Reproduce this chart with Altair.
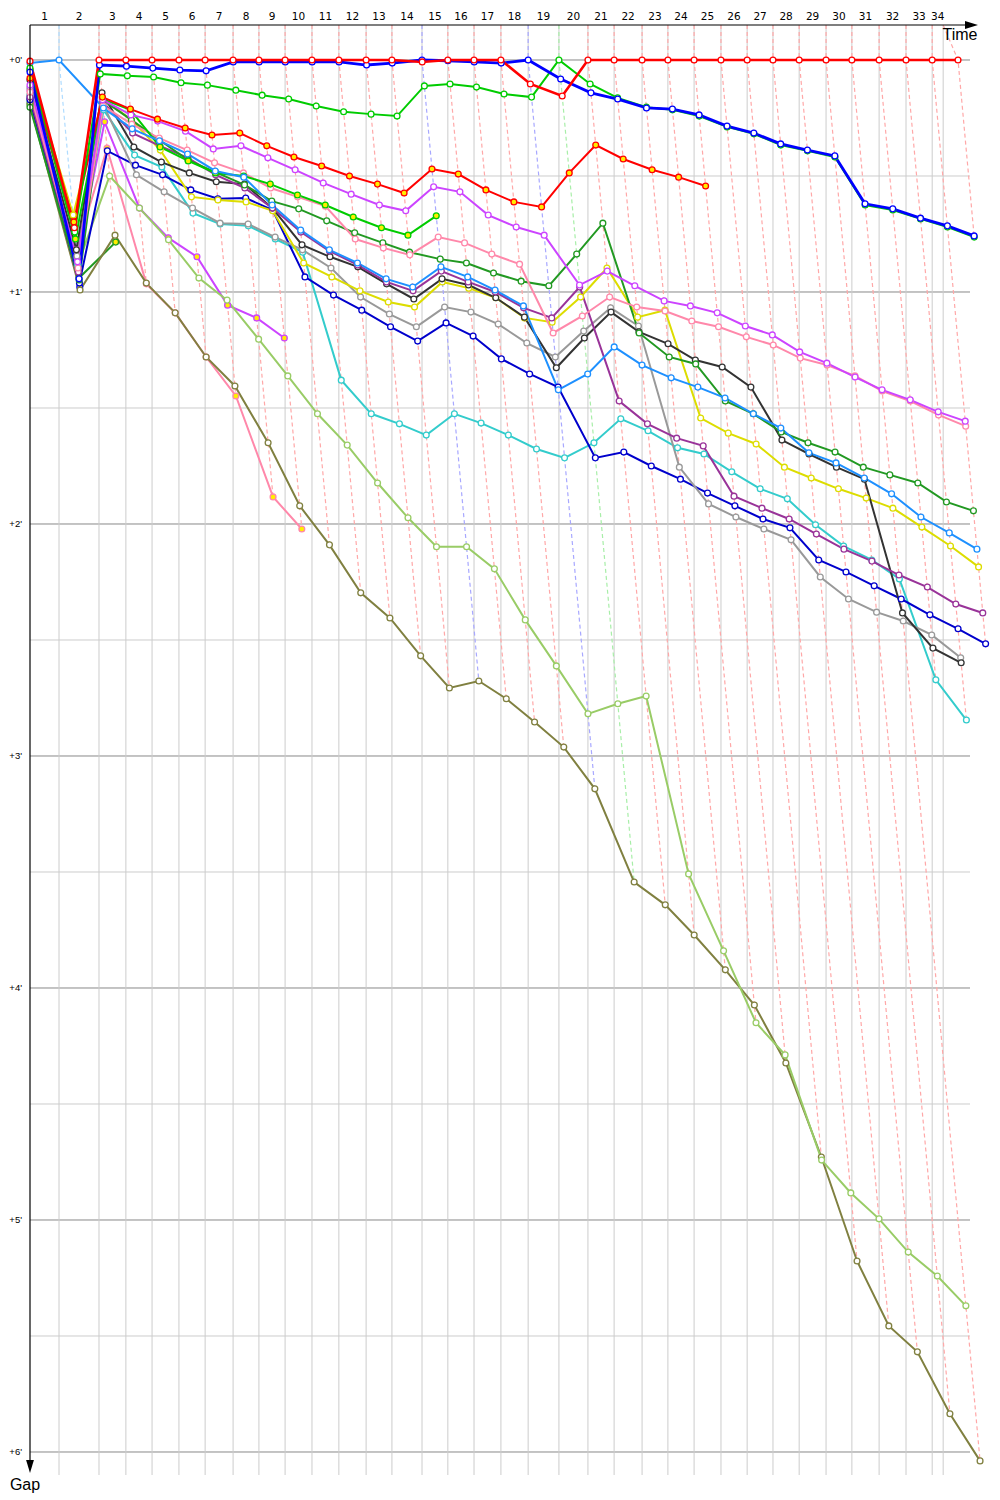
import altair as alt
import pandas as pd

# Leader's cumulative race time (s) at the end of each lap (lap 0 = start)
LAP_TIMES = [0, 82, 195, 271, 345, 421, 495, 574, 647, 721, 797, 873, 950, 1023,
             1108, 1181, 1255, 1331, 1408, 1495, 1577, 1651, 1730, 1803, 1877,
             1953, 2027, 2100, 2174, 2250, 2323, 2400, 2476, 2550, 2623]
RACE_END = 2581
TIME_MAX = 2671
GAP_TOP = -9.05
GAP_BOTTOM = 365.95

LAP_LABELS = [str(i) for i in range(1, 35)]
GAP_TICKS = [0, 60, 120, 180, 240, 300, 360]
GAP_TICK_LABELS = ["+0'", "+1'", "+2'", "+3'", "+4'", "+5'", "+6'"]
GAP_MINOR = [30, 90, 150, 210, 270, 330]

# gaps to the leader (s), lap 0 .. last lap
RED = [0.3, 43.4, 0, 0, 0, 0, 0, 0, 0, 0, 0, 0, 0, 0, 0.5, 0, 0, 0, 6.2, 9.3,
       0, 0, 0, 0, 0, 0, 0, 0, 0, 0, 0, 0, 0, 0, 0]
BLUE = [3.1, 56.6, 1.3, 1.6, 2.1, 2.6, 2.8, 0.5, 0.5, 0.5, 0.5, 0.5, 1.3, 0.8, 0, 0.2,
        0.5, 0.8, 0, 4.9, 8.5, 10.1, 12.4, 12.7, 14.2, 17.1, 18.9, 21.7, 23.3, 24.8,
        37.2, 38.5, 40.9, 42.9, 45.5]
GREEN = [2.1, 44.5, 3.6, 4.1, 4.4, 5.9, 6.5, 7.8, 9.1, 10.1, 11.9, 13.4, 14.0, 14.5,
         6.7, 6.2, 7.0, 8.8, 9.6, 0, 6.2, 9.8, 12.2, 12.9, 14.5, 17.3, 19.1, 22.0,
         23.5, 25.1, 37.5, 38.8, 41.1, 43.2, 45.8]
RED_Y = [4.7, 41.9, 9.6, 12.7, 15.3, 17.6, 19.4, 18.9, 22.2, 25.1, 27.4, 30.0, 32.1,
         34.4, 28.2, 29.5, 33.6, 36.7, 38.0, 29.2, 22.0, 25.6, 28.4, 30.3, 32.6]
MAGENTA = [6.5, 52.2, 10.3, 14.2, 15.8, 18.4, 23.0, 22.2, 25.3, 28.4, 31.8, 34.7, 37.5,
           39.0, 32.8, 34.1, 40.1, 43.2, 45.3, 58.2, 54.6, 58.4, 62.3, 63.6, 65.4,
           68.8, 71.1, 75.5, 78.4, 82.0, 85.3, 87.9, 91.0, 93.4]
PINK = [8.3, 53.8, 11.9, 16.6, 20.2, 23.3, 26.6, 29.2, 33.1, 35.4, 37.8, 46.3, 48.6,
        50.4, 45.8, 47.3, 50.2, 52.8, 70.6, 66.2, 61.3, 63.9, 64.9, 67.5, 69.0, 71.6,
        73.7, 77.1, 78.9, 81.7, 85.6, 88.2, 91.8, 94.7]
GREEN_Y = [2.6, 46.3, 10.1, 12.9, 22.5, 26.1, 29.2, 30.0, 32.1, 34.9, 37.5, 40.6,
           43.4, 45.3, 40.3]
DKGREEN = [12.2, 56.9, 10.3, 15.5, 20.7, 25.9, 29.0, 32.3, 36.5, 38.5, 41.6, 44.7,
           47.3, 49.7, 51.5, 52.5, 55.1, 57.2, 58.4, 50.2, 42.2, 70.6, 76.8, 78.6,
           88.2, 91.5, 96.2, 99.0, 101.4, 105.3, 107.3, 109.4, 114.3, 116.6]
DODGER = [0.8, 0, 12.4, 17.8, 20.9, 24.3, 28.7, 30.3, 37.5, 44.0, 49.1, 52.5, 56.6,
          58.7, 53.5, 56.1, 59.5, 63.6, 85.3, 81.2, 74.2, 78.9, 82.2, 84.6, 87.4,
          91.5, 95.2, 101.6, 104.2, 108.1, 112.2, 118.2, 122.3, 126.5]
PURPLE = [9.6, 54.8, 10.9, 18.9, 22.2, 25.3, 29.7, 33.1, 38.3, 44.5, 49.4, 53.0, 57.4,
          59.7, 54.6, 57.4, 60.0, 64.1, 66.7, 58.7, 88.2, 94.1, 97.8, 99.8, 112.8,
          115.9, 118.7, 122.6, 126.5, 129.6, 133.2, 136.3, 140.7, 143.0]
BLACK = [5.2, 49.1, 8.5, 22.5, 26.4, 29.2, 31.5, 32.1, 38.3, 47.8, 50.9, 53.5, 57.9,
         61.8, 56.6, 58.2, 61.5, 66.5, 79.6, 71.9, 65.2, 70.3, 73.4, 77.6, 79.4, 84.6,
         98.3, 101.9, 105.3, 108.4, 143.0, 152.1, 155.9]
GRAY = [7.2, 50.7, 11.4, 29.7, 34.1, 38.3, 42.2, 42.4, 45.8, 49.1, 53.8, 61.3, 65.7,
        69.0, 63.9, 65.2, 68.3, 73.2, 76.8, 70.1, 64.1, 68.8, 105.3, 114.8, 118.2,
        121.3, 124.1, 133.7, 139.4, 142.8, 145.1, 148.7, 154.6]
CYAN = [9.1, 53.0, 12.9, 24.6, 27.7, 39.6, 42.4, 42.9, 46.3, 49.7, 82.8, 91.5, 94.1,
        97.0, 91.5, 93.9, 97.0, 100.6, 102.9, 99.0, 92.8, 95.9, 100.3, 101.9, 106.5,
        110.9, 113.5, 120.2, 125.7, 129.3, 134.2, 160.3, 170.7]
YELLOW = [2.6, 40.1, 9.8, 15.5, 23.3, 35.4, 36.2, 36.7, 39.0, 52.5, 56.1, 59.7, 62.6,
          63.9, 57.4, 59.0, 61.5, 66.7, 67.8, 61.3, 53.8, 66.5, 64.7, 92.6, 96.5, 99.3,
          105.3, 108.1, 110.9, 113.3, 115.9, 120.8, 125.7, 131.1]
DKBLUE = [10.3, 57.7, 23.5, 27.2, 29.7, 33.6, 35.9, 35.7, 38.8, 56.1, 60.8, 64.7, 69.0,
          72.7, 68.0, 71.4, 77.3, 81.2, 84.6, 102.9, 101.4, 105.0, 108.4, 112.0, 115.3,
          118.7, 121.0, 129.3, 132.4, 136.0, 139.4, 143.5, 147.1, 151.0]
LTGREEN = [10.3, 53.0, 30.0, 38.3, 46.5, 56.4, 62.1, 72.2, 81.7, 91.5, 99.6, 109.4,
           118.4, 125.9, 125.9, 131.6, 144.8, 156.7, 169.1, 166.5, 164.5, 210.5, 230.4,
           249.0, 257.3, 284.5, 293.0, 299.7, 308.3, 314.5, 322.2]
OLIVE = [11.6, 59.5, 45.3, 57.7, 65.4, 76.8, 84.3, 99.0, 115.3, 125.4, 137.8, 144.3,
         154.1, 162.4, 160.6, 165.2, 171.2, 177.7, 188.5, 212.6, 218.5, 226.3, 235.3,
         244.4, 259.4, 283.7, 310.6, 327.4, 334.1, 350.1, 362.3]
PINK_Y = [9.1, 49.1, 22.8, 57.9, 65.4, 76.8, 86.9, 113.0, 121.3]
MAGENTA_Y = [7.8, 51.2, 16.0, 38.3, 46.0, 50.9, 63.4, 66.7, 71.9]
FOREST_Y = [11.1, 56.4, 47.1]
BLUE_Y = [9.8, 58.7]

W, Yf = "#ffffff", "#ffee00"
# name, line colour, marker fill, line width, gaps  (priority order)
DRIVERS = [
    ("d01", "#ff0000", W, 2.6, RED),
    ("d02", "#0000ff", W, 2.8, BLUE),
    ("d03", "#00cc00", W, 2.0, GREEN),
    ("d04", "#1e90ff", W, 2.0, DODGER),
    ("d05", "#ff0000", Yf, 2.0, RED_Y),
    ("d06", "#cc44ff", W, 2.0, MAGENTA),
    ("d07", "#00cc00", Yf, 2.0, GREEN_Y),
    ("d08", "#ff88aa", W, 2.0, PINK),
    ("d09", "#229922", W, 2.0, DKGREEN),
    ("d10", "#993399", W, 2.0, PURPLE),
    ("d11", "#333333", W, 2.0, BLACK),
    ("d12", "#dddd00", W, 2.0, YELLOW),
    ("d13", "#999999", W, 2.0, GRAY),
    ("d14", "#0000cc", W, 2.0, DKBLUE),
    ("d15", "#33cccc", W, 2.0, CYAN),
    ("d16", "#99cc66", W, 2.0, LTGREEN),
    ("d17", "#808040", W, 2.0, OLIVE),
    ("d18", "#ff88aa", Yf, 2.0, PINK_Y),
    ("d19", "#cc44ff", Yf, 2.0, MAGENTA_Y),
    ("d20", "#229922", Yf, 2.0, FOREST_Y),
    ("d21", "#0000ff", Yf, 2.0, BLUE_Y),
]
DASH = {"#ff0000": "#ffa8a8", "#0000ff": "#a8a8ff", "#00cc00": "#a8eea8",
        "#1e90ff": "#b0dcff"}

rows = []
for prio, (name, col, fill, wdt, gaps) in enumerate(DRIVERS):
    for lap, g in enumerate(gaps):
        t = 0 if lap == 0 else LAP_TIMES[lap] + g
        rows.append(dict(driver=name, color=col, fill=fill, lap=lap, t=t, gap=g, prio=prio))
df = pd.DataFrame(rows)

lap_rows = []
for k in range(1, 35):
    sub = df[df.lap == k].sort_values(["gap", "prio"])
    dash = DASH.get(sub.iloc[0].color, "#ffa8a8")
    top_t = LAP_TIMES[k] if k < 34 else RACE_END
    lap_rows.append(dict(lap=k, t=top_t, gap=GAP_TOP, dash=dash))
    for _, r in sub.iterrows():
        lap_rows.append(dict(lap=k, t=r.t, gap=r.gap, dash=dash))
lap_df = pd.DataFrame(lap_rows)

grid_t = [0] + LAP_TIMES[1:34] + [RACE_END]
vgrid = pd.DataFrame({"t": grid_t[1:]})
labels_df = pd.DataFrame({"t": [(grid_t[i] + grid_t[i + 1]) / 2 for i in range(34)],
                          "label": LAP_LABELS})
hgrid = pd.DataFrame({"gap": GAP_TICKS + GAP_MINOR,
                      "c": ["#888888"] * len(GAP_TICKS) + ["#cccccc"] * len(GAP_MINOR)})
ylab = pd.DataFrame({"gap": GAP_TICKS, "label": GAP_TICK_LABELS})

PW, PH = 945, 1450
xs = alt.Scale(domain=[0, TIME_MAX], nice=False, zero=False)
ys = alt.Scale(domain=[GAP_TOP, GAP_BOTTOM], nice=False, zero=False, reverse=True)
X = alt.X("t:Q", scale=xs, axis=None)
Y = alt.Y("gap:Q", scale=ys, axis=None)

layers = []
layers.append(alt.Chart(hgrid).mark_rule(strokeWidth=1).encode(
    y=Y, x=alt.value(0), x2=alt.value(940), color=alt.Color("c:N", scale=None)))
layers.append(alt.Chart(vgrid).mark_rule(strokeWidth=1, color="#cccccc").encode(
    x=X, y=alt.value(0), y2=alt.value(PH)))
layers.append(alt.Chart(lap_df).mark_line(strokeDash=[4, 3], strokeWidth=1.2).encode(
    x=X, y=Y, detail="lap:N", order="gap:Q", color=alt.Color("dash:N", scale=None)))

for prio in reversed(range(len(DRIVERS))):
    name, col, fill, wdt, gaps = DRIVERS[prio]
    d = df[df.driver == name]
    layers.append(alt.Chart(d).mark_line(strokeWidth=wdt, color=col).encode(
        x=X, y=Y, order="lap:Q"))

pts = pd.concat([df[df.driver == DRIVERS[p][0]] for p in reversed(range(len(DRIVERS)))])
layers.append(alt.Chart(pts).mark_point(shape="circle", filled=True, size=34, opacity=1,
                                        strokeWidth=1.3).encode(
    x=X, y=Y, fill=alt.Fill("fill:N", scale=None), stroke=alt.Stroke("color:N", scale=None)))

# axes
axis_df = pd.DataFrame({"a": [0]})
layers.append(alt.Chart(axis_df).mark_rule(color="black", strokeWidth=1.2).encode(
    x=alt.value(0), x2=alt.value(937), y=alt.value(0)))
layers.append(alt.Chart(axis_df).mark_rule(color="black", strokeWidth=1.2).encode(
    x=alt.value(0), y=alt.value(0), y2=alt.value(1440)))
layers.append(alt.Chart(axis_df).mark_point(shape="M-1,-0.6L1,0L-1,0.6Z", filled=True,
                                            color="black", size=169, opacity=1).encode(
    x=alt.value(941.5), y=alt.value(0)))
layers.append(alt.Chart(axis_df).mark_point(shape="M-0.6,-1L0,1L0.6,-1Z", filled=True,
                                            color="black", size=169, opacity=1).encode(
    x=alt.value(0), y=alt.value(1441.5)))
layers.append(alt.Chart(pd.DataFrame({"s": ["Time"]})).mark_text(
    font="Liberation Sans", fontSize=16, align="center", baseline="middle").encode(
    x=alt.value(930), y=alt.value(10), text="s:N"))
layers.append(alt.Chart(pd.DataFrame({"s": ["Gap"]})).mark_text(
    font="Liberation Sans", fontSize=16, align="center", baseline="middle").encode(
    x=alt.value(-5), y=alt.value(1460), text="s:N"))
layers.append(alt.Chart(labels_df).mark_text(
    font="DejaVu Sans", fontSize=10.5, align="center", baseline="middle").encode(
    x=X, y=alt.value(-8), text="label:N"))
layers.append(alt.Chart(ylab).mark_text(
    font="Liberation Sans", fontSize=9.5, align="right", baseline="middle").encode(
    y=Y, x=alt.value(-8), text="label:N"))

chart = alt.layer(*layers).properties(
    width=PW, height=PH,
    autosize=alt.AutoSizeParams(type="none"),
    padding={"left": 22, "top": 17, "right": 16, "bottom": 20},
).configure_view(stroke=None)

chart.save("out.html", embed_options={"renderer": "svg", "actions": False})
